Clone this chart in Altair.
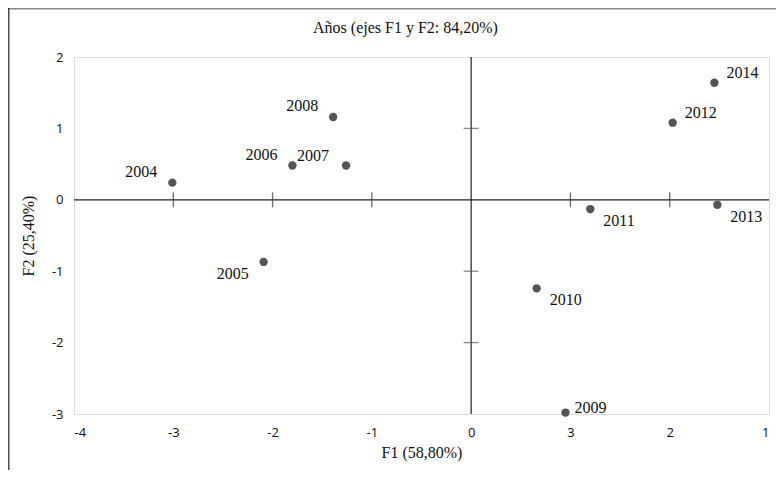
import altair as alt
import pandas as pd

# ---- data ----
years = ["2004", "2005", "2006", "2007", "2008", "2009", "2010", "2011", "2012", "2013", "2014"]
f1 = [-3.01, -2.09, -1.80, -1.26, -1.39, 0.95, 0.66, 1.20, 2.03, 2.48, 2.45]
f2 = [0.24, -0.87, 0.48, 0.48, 1.16, -2.98, -1.24, -0.13, 1.08, -0.07, 1.64]

x_tick_values = [-4, -3, -2, -1, 0, 1, 2, 3]
x_tick_labels = ["-4", "-3", "-2", "-1", "0", "3", "2", "1"]
y_tick_values = [-3, -2, -1, 0, 1, 2]
h_line_ticks = [-3, -2, -1, 1, 2]   # ticks crossing the horizontal zero line
v_line_ticks = [-2, -1, 1]          # ticks crossing the vertical zero line

title_text = "Años (ejes F1 y F2: 84,20%)"
x_title = "F1 (58,80%)"
y_title = "F2 (25,40%)"

df = pd.DataFrame({"year": years, "F1": f1, "F2": f2})

W, H = 695, 357
PL, PT, PR, PB = 66, 49, 7, 56

label_expr = " : ".join(
    f"datum.value == {v} ? '{l}'" for v, l in zip(x_tick_values, x_tick_labels)
) + " : datum.label"

xs = alt.Scale(domain=[-4, 3], nice=False, zero=False)
ys = alt.Scale(domain=[-3, 2], nice=False, zero=False)

sans = "Open Sans"
serif = "Liberation Serif"

base = alt.Chart(df)

points = base.mark_circle(size=70, color="#555555", opacity=1).encode(
    x=alt.X("F1:Q", scale=xs,
            axis=alt.Axis(values=x_tick_values, labelExpr=label_expr, title=x_title,
                          domain=False, ticks=False, grid=False, labelPadding=12,
                          labelFont=sans, labelFontSize=13, labelColor="#111",
                          titleFont=serif, titleFontSize=16, titleFontWeight="normal",
                          titleColor="#111", titlePadding=5)),
    y=alt.Y("F2:Q", scale=ys,
            axis=alt.Axis(values=y_tick_values, title=y_title,
                          labelExpr="toString(datum.value)",
                          domain=False, ticks=False, grid=False, labelPadding=11,
                          labelFont=sans, labelFontSize=13, labelColor="#111",
                          titleFont=serif, titleFontSize=16, titleFontWeight="normal",
                          titleColor="#111", titleX=-38, titleY=H / 2)),
)

def labels(sel, align, dx, dy):
    return base.transform_filter(
        alt.FieldOneOfPredicate(field="year", oneOf=sel)
    ).mark_text(align=align, baseline="middle", dx=dx, dy=dy, font=serif,
                fontSize=16, color="#111").encode(
        x=alt.X("F1:Q", scale=xs), y=alt.Y("F2:Q", scale=ys), text="year:N"
    )

lab_layers = [
    labels(["2004", "2006", "2008"], "right", -15, -11),
    labels(["2007"], "right", -17, -10),
    labels(["2005"], "right", -15, 12),
    labels(["2012", "2014"], "left", 12, -10),
    labels(["2009"], "left", 9, -5),
    labels(["2010", "2011", "2013"], "left", 13, 12),
]

zero_h = alt.Chart(alt.Data(values=[{"v": 0}])).mark_rule(color="#222", strokeWidth=1.2).encode(
    y=alt.Y("v:Q", scale=ys), x=alt.value(0), x2=alt.value(W))
zero_v = alt.Chart(alt.Data(values=[{"v": 0}])).mark_rule(color="#222", strokeWidth=1.2).encode(
    x=alt.X("v:Q", scale=xs), y=alt.value(0), y2=alt.value(H))

htick = alt.Chart(pd.DataFrame({"t": h_line_ticks, "z": [0] * len(h_line_ticks)})).mark_tick(
    orient="vertical", size=15, thickness=1.3, color="#333").encode(
    x=alt.X("t:Q", scale=xs), y=alt.Y("z:Q", scale=ys))
vtick = alt.Chart(pd.DataFrame({"t": v_line_ticks, "z": [0] * len(v_line_ticks)})).mark_tick(
    orient="horizontal", size=15, thickness=1.3, color="#555").encode(
    y=alt.Y("t:Q", scale=ys), x=alt.X("z:Q", scale=xs))

# outer page frame (top and left edges)
frame_top = alt.Chart(alt.Data(values=[{}])).mark_rule(color="#888", strokeWidth=2).encode(
    x=alt.value(-PL), x2=alt.value(W + PR), y=alt.value(-PT + 0.5))
frame_left = alt.Chart(alt.Data(values=[{}])).mark_rule(color="#222", strokeWidth=1.2).encode(
    x=alt.value(-PL + 0.8), y=alt.value(-PT), y2=alt.value(H + PB))

# chart title drawn as a text mark so it sits right above the plot frame
title_mark = alt.Chart(alt.Data(values=[{"t": title_text}])).mark_text(
    font=serif, fontSize=16, color="#111", align="center", baseline="middle").encode(
    text="t:N", x=alt.value(W / 2 - 16), y=alt.value(-29))

chart = alt.layer(
    frame_top, frame_left, zero_h, zero_v, htick, vtick, points, *lab_layers, title_mark
).properties(
    width=W, height=H,
    autosize=alt.AutoSizeParams(type="none"),
    padding={"left": PL, "top": PT, "right": PR, "bottom": PB},
).configure_view(stroke="#6a6a6a", strokeWidth=1.5).configure(background="white")

chart.save("out.html", embed_options={"renderer": "svg", "actions": False})
